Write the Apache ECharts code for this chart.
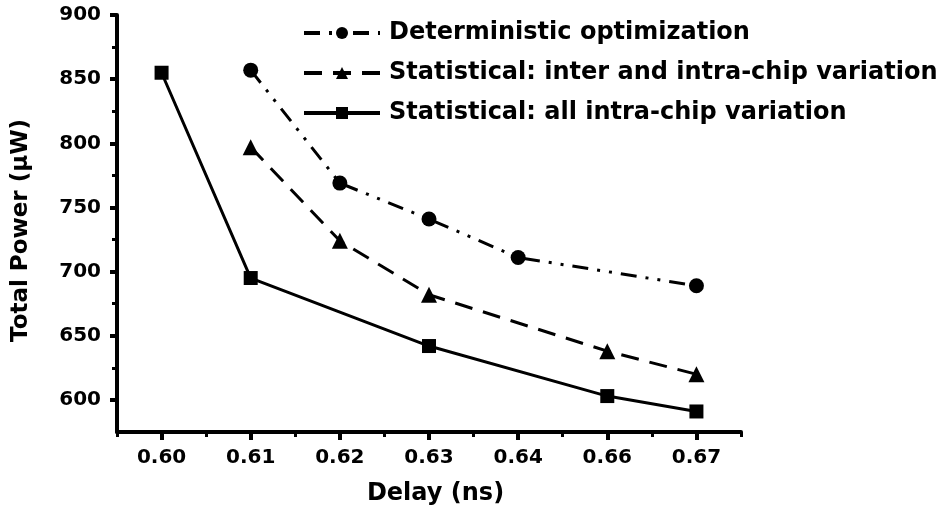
<!DOCTYPE html>
<html>
<head>
<meta charset="utf-8">
<script src="https://cdn.jsdelivr.net/npm/echarts@6/dist/echarts.min.js"></script>
<style>html,body{margin:0;padding:0;background:#fff}#c{width:945px;height:512px}</style>
</head>
<body>
<div id="c"></div>
<script>
const categories = ['0.60', '0.61', '0.62', '0.63', '0.64', '0.66', '0.67'];
const deterministic = [null, 857, 769, 741, 711, null, 689];
const interIntra = [null, 797, 724, 682, null, 638, 620];
const allIntra = [855, 695, null, 642, null, 603, 591];
const yMajorTicks = [600, 650, 700, 750, 800, 850, 900];
const yMinorTicks = [625, 675, 725, 775, 825, 875];

const FONT = 'DejaVu Sans';
const chart = echarts.init(document.getElementById('c'));
const axisLine = { show: true, lineStyle: { color: '#000', width: 4 } };
chart.setOption({
  animation: false,
  backgroundColor: '#fff',
  grid: { left: 117, right: 204, top: 15, bottom: 80 },
  legend: {
    orient: 'vertical',
    left: 297,
    top: 16,
    itemWidth: 76,
    itemHeight: 15,
    itemGap: 16,
    lineStyle: { width: 4 },
    textStyle: { fontFamily: FONT, fontWeight: 'bold', fontSize: 24, color: '#000', padding: [0, 0, 0, 4] },
    data: ['Deterministic optimization', 'Statistical: inter and intra-chip variation', 'Statistical: all intra-chip variation']
  },
  xAxis: [{
    type: 'category',
    data: categories,
    boundaryGap: true,
    name: 'Delay (ns)',
    nameLocation: 'middle',
    nameGap: 50,
    nameTextStyle: { fontFamily: FONT, fontWeight: 'bold', fontSize: 24, color: '#000', padding: [0, 0, 0, 13] },
    axisLine: axisLine,
    axisTick: { show: true, alignWithLabel: true, length: 8, lineStyle: { color: '#000', width: 4 } },
    axisLabel: { fontFamily: FONT, fontWeight: 'bold', fontSize: 20, color: '#000', margin: 16 },
    splitLine: { show: false }
  }, {
    type: 'category',
    data: categories,
    boundaryGap: true,
    position: 'bottom',
    axisLine: { show: false },
    axisTick: { show: true, alignWithLabel: false, length: 5, lineStyle: { color: '#000', width: 3 } },
    axisLabel: { show: false },
    splitLine: { show: false }
  }],
  yAxis: [{
    type: 'value',
    min: 575,
    max: 900,
    name: 'Total Power (\u03bcW)',
    nameLocation: 'middle',
    nameGap: 84,
    nameTextStyle: { fontFamily: FONT, fontWeight: 'bold', fontSize: 23, color: '#000', padding: [0, 14, 0, 0] },
    axisLine: axisLine,
    axisTick: { show: true, length: 7, customValues: yMajorTicks, lineStyle: { color: '#000', width: 4 } },
    axisLabel: { fontFamily: FONT, fontWeight: 'bold', fontSize: 20, color: '#000', margin: 16, customValues: yMajorTicks },
    splitLine: { show: false }
  }, {
    type: 'value',
    min: 575,
    max: 900,
    position: 'left',
    axisLine: { show: false },
    axisTick: { show: true, length: 5, customValues: yMinorTicks, lineStyle: { color: '#000', width: 3 } },
    axisLabel: { show: false },
    splitLine: { show: false }
  }],
  series: [{
    name: 'Deterministic optimization',
    type: 'line',
    data: deterministic,
    connectNulls: true,
    symbol: 'circle',
    symbolSize: 15,
    itemStyle: { color: '#000' },
    lineStyle: { color: '#000', width: 3, type: [16, 9, 3, 9, 3, 9] }
  }, {
    name: 'Statistical: inter and intra-chip variation',
    type: 'line',
    data: interIntra,
    connectNulls: true,
    symbol: 'triangle',
    symbolSize: 16,
    itemStyle: { color: '#000' },
    lineStyle: { color: '#000', width: 3, type: [18, 11] }
  }, {
    name: 'Statistical: all intra-chip variation',
    type: 'line',
    data: allIntra,
    connectNulls: true,
    symbol: 'rect',
    symbolSize: 14,
    itemStyle: { color: '#000' },
    lineStyle: { color: '#000', width: 3, type: 'solid' }
  }]
});
</script>
</body>
</html>
